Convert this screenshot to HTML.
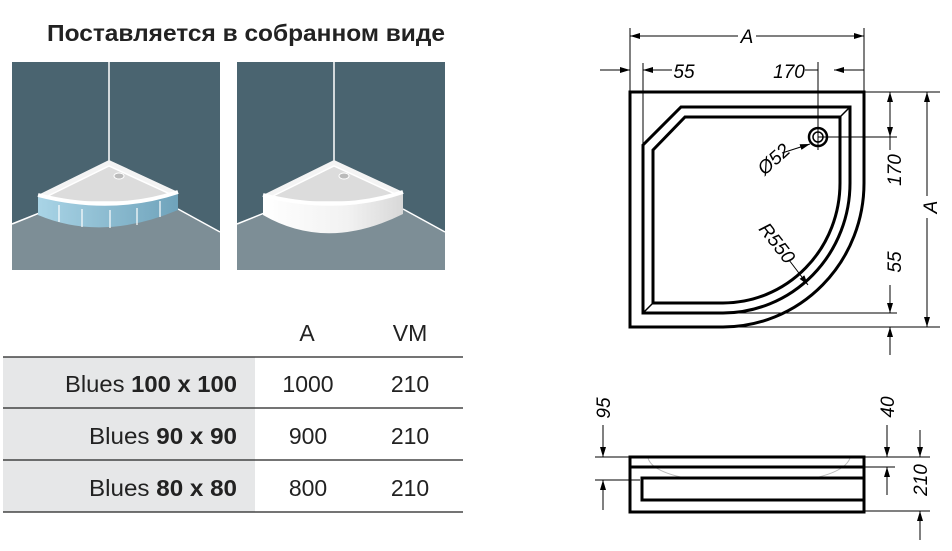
<!DOCTYPE html>
<html><head><meta charset="utf-8"><style>
body{margin:0;background:#fff;}
svg{display:block;font-family:"Liberation Sans",sans-serif;}
</style></head><body>
<svg width="952" height="551" viewBox="0 0 952 551" xmlns="http://www.w3.org/2000/svg">
<defs>
<marker id="ar" viewBox="0 0 10 6" refX="10" refY="3" markerWidth="10" markerHeight="6" orient="auto-start-reverse" markerUnits="userSpaceOnUse"><path d="M0,0L10,3L0,6z" fill="#000"/></marker>
<linearGradient id="bl" x1="0" x2="1"><stop offset="0" stop-color="#a9d4e6"/><stop offset="1" stop-color="#6fa3bb"/></linearGradient>
<linearGradient id="wh" x1="0" x2="1"><stop offset="0" stop-color="#fff"/><stop offset="0.6" stop-color="#f2f2f2"/><stop offset="1" stop-color="#d8d8d8"/></linearGradient>
<g id="room">
<rect x="0" y="0" width="208" height="208" fill="#4a6470"/>
<polygon points="0,162 45,146 100,122 165,146 208,170 208,208 0,208" fill="#7d8e96"/>
<line x1="97" y1="0" x2="97" y2="100" stroke="#fff" stroke-width="1.5"/>
<polyline points="0,162 40,146" stroke="#fff" stroke-width="1.5" fill="none"/>
<polyline points="166,147 208,170" stroke="#fff" stroke-width="1.5" fill="none"/>
<polygon points="26,133 97,98 166,130 166,140 26,142" fill="#f4f4f4"/>
<polygon points="36,134 97,104 158,132 150,140 40,140" fill="#dcdcdc" stroke="#fff" stroke-width="1.5"/>
<ellipse cx="107" cy="114" rx="5" ry="3" fill="#bbb" stroke="#fff"/>
</g>
</defs>
<text x="47" y="41" font-size="23" font-weight="bold" fill="#222" textLength="398" lengthAdjust="spacingAndGlyphs">Поставляется в собранном виде</text>
<g transform="translate(12,62)">
<use href="#room"/>
<path d="M26,133 L26,153 Q90,180 166,148 L166,130 Q100,152 26,133z" fill="url(#bl)"/>
<path d="M26,133 Q100,152 166,130" stroke="#fff" stroke-width="4" fill="none"/>
<g stroke="#fff" stroke-width="1.2"><line x1="47" y1="143" x2="47" y2="160"/><line x1="70" y1="147" x2="70" y2="165"/><line x1="98" y1="148" x2="98" y2="166"/><line x1="125" y1="146" x2="125" y2="163"/><line x1="148" y1="139" x2="148" y2="155"/></g>
</g>
<g transform="translate(237,62)">
<use href="#room"/>
<path d="M26,133 L26,153 Q90,190 166,152 L166,130 Q100,152 26,133z" fill="url(#wh)"/>
<path d="M26,133 Q100,152 166,130" stroke="#fff" stroke-width="4" fill="none"/>
</g>
<rect x="3" y="357" width="252" height="155" fill="#e6e7e8"/>
<g stroke="#222" stroke-width="1.2"><line x1="3" y1="357" x2="463" y2="357"/><line x1="3" y1="408" x2="463" y2="408"/><line x1="3" y1="460" x2="463" y2="460"/><line x1="3" y1="512" x2="463" y2="512"/></g>
<g font-size="23" fill="#222">
<text x="307" y="341" text-anchor="middle">A</text>
<text x="410" y="341" text-anchor="middle">VM</text>
<text x="65" y="392" textLength="172" lengthAdjust="spacingAndGlyphs">Blues <tspan font-weight="bold">100 x 100</tspan></text>
<text x="89" y="444" textLength="148" lengthAdjust="spacingAndGlyphs">Blues  <tspan font-weight="bold">90 x 90</tspan></text>
<text x="89" y="496" textLength="148" lengthAdjust="spacingAndGlyphs">Blues  <tspan font-weight="bold">80 x 80</tspan></text>
<text x="308" y="392" text-anchor="middle">1000</text><text x="410" y="392" text-anchor="middle">210</text>
<text x="308" y="444" text-anchor="middle">900</text><text x="410" y="444" text-anchor="middle">210</text>
<text x="308" y="496" text-anchor="middle">800</text><text x="410" y="496" text-anchor="middle">210</text>
</g>
<g fill="none" stroke="#000">
<path d="M723,327 L630,327 L630,92 L864,92 L864,183 A141,144 0 0 1 723,327" stroke-width="3"/>
<path d="M643,145 L681,107 L850,107 L850,183 A127,130 0 0 1 723,313 L643,313 Z" stroke-width="3"/>
<path d="M653,150 L685,117 L840,117 L840,183 A117,120 0 0 1 723,303 L653,303 Z" stroke-width="3"/>
<line x1="643" y1="313" x2="653" y2="303" stroke-width="1.5"/>
<line x1="850" y1="107" x2="840" y2="117" stroke-width="1.5"/>
<circle cx="818" cy="137" r="9" stroke-width="2.5"/><circle cx="818" cy="137" r="5" stroke-width="1.5"/>
<g stroke-width="1">
<line x1="630" y1="28" x2="630" y2="92"/><line x1="864" y1="28" x2="864" y2="92"/>
<line x1="630" y1="36" x2="738" y2="36" marker-start="url(#ar)"/><line x1="756" y1="36" x2="864" y2="36" marker-end="url(#ar)"/>
<line x1="643" y1="63" x2="643" y2="145"/><line x1="818" y1="62" x2="818" y2="150"/>
<line x1="600" y1="70" x2="630" y2="70" marker-end="url(#ar)"/><line x1="672" y1="70" x2="643" y2="70" marker-end="url(#ar)"/>
<line x1="805" y1="70" x2="818" y2="70"/><line x1="864" y1="70" x2="834" y2="70" marker-end="url(#ar)"/>
<line x1="864" y1="92" x2="940" y2="92"/><line x1="818" y1="137" x2="897" y2="137"/>
<line x1="723" y1="313" x2="897" y2="313"/><line x1="723" y1="327" x2="940" y2="327"/>
<line x1="890" y1="92" x2="890" y2="137" marker-start="url(#ar)" marker-end="url(#ar)"/>
<line x1="890" y1="137" x2="890" y2="150"/>
<line x1="890" y1="285" x2="890" y2="313" marker-end="url(#ar)"/><line x1="890" y1="355" x2="890" y2="327" marker-end="url(#ar)"/>
<line x1="927" y1="92" x2="927" y2="196" marker-start="url(#ar)"/><line x1="927" y1="218" x2="927" y2="327" marker-end="url(#ar)"/>
<line x1="782" y1="153" x2="810" y2="144" marker-end="url(#ar)"/>
<line x1="789" y1="260" x2="808" y2="285" marker-end="url(#ar)"/>
</g>
</g>
<g font-size="19" font-style="italic" fill="#000">
<text x="747" y="43" text-anchor="middle">A</text>
<text x="684" y="78" text-anchor="middle">55</text>
<text x="789" y="78" text-anchor="middle">170</text>
<text transform="translate(901,170) rotate(-90)" text-anchor="middle">170</text>
<text transform="translate(901,262) rotate(-90)" text-anchor="middle">55</text>
<text transform="translate(937,207) rotate(-90)" text-anchor="middle">A</text>
<text transform="translate(778,164) rotate(-42)" text-anchor="middle">Ø52</text>
<text transform="translate(772,247) rotate(52)" text-anchor="middle">R550</text>
<text transform="translate(610,408) rotate(-90)" text-anchor="middle">95</text>
<text transform="translate(894,407) rotate(-90)" text-anchor="middle">40</text>
<text transform="translate(927,480) rotate(-90)" text-anchor="middle">210</text>
</g>
<g fill="none" stroke="#000">
<path d="M648,458 Q652,472 690,479 L810,479 Q845,472 850,458" stroke="#bbb" stroke-width="1"/>
<rect x="630" y="457" width="234" height="55" stroke-width="3"/>
<line x1="630" y1="467" x2="864" y2="467" stroke-width="3"/>
<path d="M864,478 L642,478 L642,500 L864,500" stroke-width="3"/>
<g stroke-width="1">
<line x1="595" y1="457" x2="630" y2="457"/><line x1="595" y1="480" x2="640" y2="480"/>
<line x1="864" y1="457" x2="930" y2="457"/><line x1="864" y1="467" x2="895" y2="467"/><line x1="864" y1="511" x2="930" y2="511"/>
<line x1="603" y1="425" x2="603" y2="457" marker-end="url(#ar)"/><line x1="603" y1="510" x2="603" y2="480" marker-end="url(#ar)"/>
<line x1="887" y1="425" x2="887" y2="457" marker-end="url(#ar)"/><line x1="887" y1="495" x2="887" y2="467" marker-end="url(#ar)"/>
<line x1="920" y1="430" x2="920" y2="457" marker-end="url(#ar)"/><line x1="920" y1="540" x2="920" y2="511" marker-end="url(#ar)"/>
</g>
</g>
</svg>
</body></html>
